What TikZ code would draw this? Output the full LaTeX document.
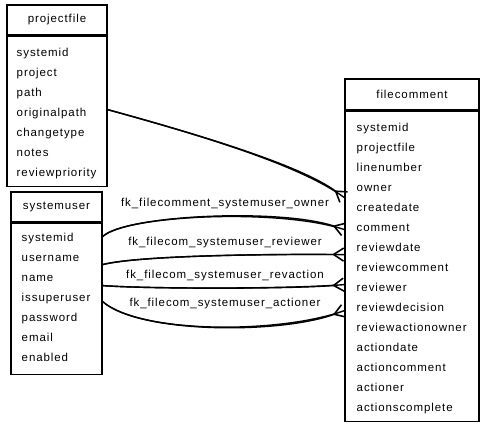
\documentclass[tikz,border=0pt]{standalone}
\usepackage{fontspec}
\setmainfont{Liberation Sans}[LetterSpace=8]
\usepackage{tikz}
\usetikzlibrary{positioning, arrows.meta}

\tikzset{
  tablebox/.style={draw, line width=1.2pt, inner sep=0pt},
  field/.style={anchor=base west, inner sep=0pt},
  fklabel/.style={inner sep=0pt},
  fklink/.style={line width=1.4pt,
    postaction={draw, -{Straight Barb[reversed, length=10pt, width=13pt, line width=1.6pt]}}},
}

\begin{document}
\begin{tikzpicture}[x=1pt, y=-1pt, font=\fontsize{11.5}{13}\selectfont]
    \useasboundingbox (0,0) rectangle (485,426);

    % projectfile table
    \node[tablebox, minimum width=100pt, minimum height=30pt] (pfhead) at (57,20) {projectfile};
    \node[tablebox, minimum width=100pt, minimum height=150pt, below=0pt of pfhead] (pfbody) {};
    \foreach \f [count=\i from 0] in {systemid,project,path,originalpath,changetype,notes,reviewpriority} {
        \node[field] (pf-\i) at (16.5, 56+20*\i) {\f};
    }

    % systemuser table
    \node[tablebox, minimum width=91pt, minimum height=30pt] (suhead) at (56.5,207) {systemuser};
    \node[tablebox, minimum width=91pt, minimum height=151pt, below=0pt of suhead] (subody) {};
    \foreach \f [count=\i from 0] in {systemid,username,name,issuperuser,password,email,enabled} {
        \node[field] (su-\i) at (21.5, 241.7+20*\i) {\f};
    }

    % filecomment table
    \node[tablebox, minimum width=134pt, minimum height=31pt] (fchead) at (412,94.5) {filecomment};
    \node[tablebox, minimum width=134pt, minimum height=310pt, below=0pt of fchead] (fcbody) {};
    \foreach \f [count=\i from 0] in {systemid,projectfile,linenumber,owner,createdate,comment,reviewdate,reviewcomment,reviewer,reviewdecision,reviewactionowner,actiondate,actioncomment,actioner,actionscomplete} {
        \node[field] (fc-\i) at (356.5, 131+20*\i) {\f};
    }

    % foreign keys
    \draw[fklink] ([yshift=-74pt]pfbody.north east) .. controls (200,135) and (300,165) .. ([yshift=-87pt]fcbody.north west);
    \draw[fklink] ([yshift=-14pt]subody.north east) .. controls (125,215) and (280,208) .. ([yshift=-119pt]fcbody.north west);
    \draw[fklink] ([yshift=-42pt]subody.north east) .. controls (140,255) and (280,254) .. ([yshift=-144pt]fcbody.north west);
    \draw[fklink] ([yshift=-63pt]subody.north east) .. controls (150,289) and (290,289) .. ([yshift=-174pt]fcbody.north west);
    \draw[fklink] ([yshift=-79pt]subody.north east) .. controls (140,334) and (280,334) .. ([yshift=-200pt]fcbody.north west);

    % key names
    \node[fklabel] (lbl-owner) at (225,204) {fk\_filecomment\_systemuser\_owner};
    \node[fklabel] (lbl-reviewer) at (225,243) {fk\_filecom\_systemuser\_reviewer};
    \node[fklabel] (lbl-revaction) at (225,276) {fk\_filecom\_systemuser\_revaction};
    \node[fklabel] (lbl-actioner) at (225,304) {fk\_filecom\_systemuser\_actioner};
\end{tikzpicture}
\end{document}
